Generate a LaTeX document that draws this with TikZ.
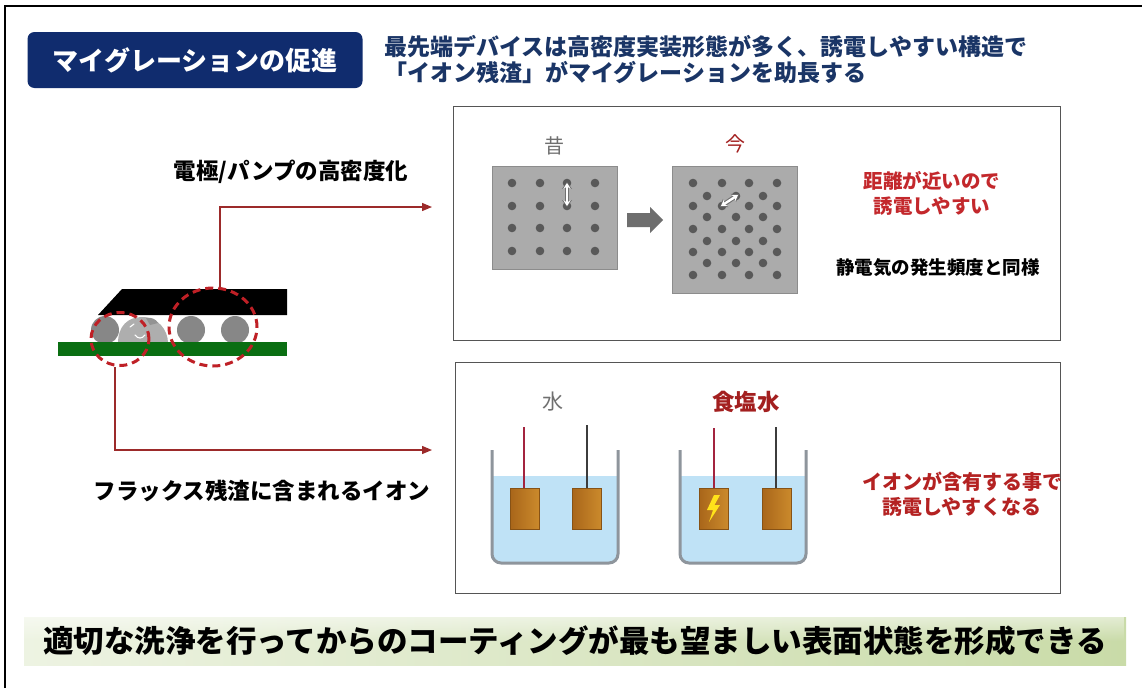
\documentclass[tikz,border=0pt]{standalone}
\usepackage{fontspec}
\setmainfont{Noto Sans CJK JP}
\usetikzlibrary{arrows.meta,shapes.geometric,fadings,calc}

\definecolor{navy}{HTML}{102C6E}
\definecolor{subnavy}{HTML}{1A3566}
\definecolor{redA}{HTML}{C3282C}
\definecolor{redB}{HTML}{B42222}
\definecolor{darkred}{HTML}{A31F1F}
\definecolor{softgray}{HTML}{707070}
\definecolor{boxgray}{HTML}{555555}
\definecolor{sqfill}{HTML}{ABABAB}
\definecolor{sqborder}{HTML}{8C8C8C}
\definecolor{dotc}{HTML}{595959}
\definecolor{arrowgray}{HTML}{6E6E6E}
\definecolor{water}{HTML}{BFE2F6}
\definecolor{wall}{HTML}{8E959C}
\definecolor{copperL}{HTML}{A9661A}
\definecolor{copperR}{HTML}{CB8A2C}
\definecolor{wirered}{HTML}{A3243F}
\definecolor{wiredark}{HTML}{3C3C3C}
\definecolor{pcbgreen}{HTML}{0A6E12}
\definecolor{ballgray}{HTML}{878787}
\definecolor{blobgray}{HTML}{AEAEAE}
\definecolor{dashred}{HTML}{BF2026}
\definecolor{flowred}{HTML}{9C2A2A}
\definecolor{boltyellow}{HTML}{FFE21A}
\definecolor{bandL}{HTML}{EDF3E2}
\definecolor{bandR}{HTML}{C9DBA8}

\newcommand\jsize[2]{\fontsize{#1}{#2}\selectfont}

\begin{document}
\begin{tikzpicture}[x=1pt,y=-1pt,
  panel/.style={draw=boxgray, line width=1pt, inner sep=0pt},
  label/.style={inner sep=0pt, font=\jsize{22.5}{27}\bfseries},
  flow/.style={draw=flowred, line width=1.3pt, -{Triangle[length=10pt,width=8pt]}},
  zone/.style={ellipse, draw=dashred, line width=3pt, dash pattern=on 8pt off 5pt, inner sep=0pt},
  ball/.style={fill=ballgray},
  plate/.style={rectangle, inner sep=0pt, minimum width=125pt, anchor=north west, draw=sqborder, fill=sqfill, line width=1.2pt},
  pad/.style={fill=dotc},
  electrode/.style={rectangle, inner sep=0pt, minimum width=29pt, minimum height=41pt, anchor=north west, left color=copperL, right color=copperR, draw=copperL!80!black, line width=0.4pt},
  beaker/.style={draw=wall, line width=3pt},
  gap/.style={draw=sqborder!80!black, line width=4.6pt, {Stealth[length=7pt,width=10pt]}-{Stealth[length=7pt,width=10pt]}},
  gapin/.style={draw=white, line width=2.4pt, {Stealth[length=5.5pt,width=7pt]}-{Stealth[length=5.5pt,width=7pt]}},
]
\useasboundingbox (0,0) rectangle (1142,688);
\fill[white] (0,0) rectangle (1142,688);

% outer frame (top and left edges)
\draw[black, line width=2pt] (5,688) -- (5,6) -- (1142,6);

% heading
\node[fill=navy, rounded corners=7pt, minimum width=335pt, minimum height=56pt, inner sep=0pt,
      text=white, font=\jsize{26}{30}\bfseries] (title) at (195,60) {マイグレーションの促進};
\node[anchor=west, inner sep=0pt, text=subnavy, font=\jsize{23}{28}\bfseries] (sub1) at (384,47)
  {最先端デバイスは高密度実装形態が多く、誘電しやすい構造で};
\node[anchor=west, inner sep=0pt, text=subnavy, font=\jsize{23}{28}\bfseries] (sub2) at (384,73)
  {「イオン残渣」がマイグレーションを助長する};

% panels
\node[panel, minimum width=607pt, minimum height=234pt] (toppanel) at (756.5,223) {};
\node[panel, minimum width=605pt, minimum height=231pt] (botpanel) at (757.5,477.5) {};

% left labels
\node[label] (lblA) at (291,172) {電極/パンプの高密度化};
\node[label] (lblB) at (262,491) {フラックス残渣に含まれるイオン};

% package cross-section
\fill[black] (98,315) -- (122,289) -- (287,289) -- (287,315) -- cycle;
\fill[ball] (105,330) circle[radius=14];
\fill[ball] (191,330) circle[radius=14];
\fill[ball] (235,330) circle[radius=14];
\fill[blobgray] (118,343) .. controls (118,326) and (128,317) .. (142,317)
  .. controls (158,317) and (168,330) .. (168,343) -- cycle;
\fill[ballgray!90] (146,318) .. controls (151,317) and (156,319) .. (158,323) -- (150,325) -- cycle;
\draw[white, line width=1.1pt, line cap=round] (130,327) -- (134,324);
\draw[white, line width=1.1pt, line cap=round] (135,335) .. controls (138,339) and (142,339) .. (145,335);
\fill[pcbgreen] (58,342) rectangle (287,356);
\node[zone, minimum width=58pt, minimum height=53pt] (zoneL) at (120,339) {};
\node[zone, minimum width=88pt, minimum height=78pt] (zoneR) at (213,327) {};

% connectors
\coordinate (tipA) at (432,207);
\coordinate (tipB) at (432,450);
\draw[flow] ([xshift=7pt]zoneR.north) |- (tipA);
\draw[flow] ([xshift=-5pt]zoneL.south) |- (tipB);

% pitch comparison
\node[text=softgray, font=\jsize{20}{24}] (old) at (554,146) {昔};
\node[text=darkred, font=\jsize{20}{24}] (now) at (735,144) {今};
\node[plate, minimum height=103pt] (plateOld) at (492,166) {};
\node[plate, minimum height=127pt] (plateNew) at (672,166) {};
\foreach \x in {512,540,567,595}
  \foreach \y in {183,206,228,251}
    \fill[pad] (\x,\y) circle[radius=4.3];
\foreach \y in {183,206,229,252,275}
  \foreach \x in {693,722,749,777}
    \fill[pad] (\x,\y) circle[radius=4.3];
\foreach \y in {196,217,241,263}
  \foreach \x in {707,736,763}
    \fill[pad] (\x,\y) circle[radius=4.3];
\draw[gap] (567,182) -- (567,207);
\draw[gapin] (567,183) -- (567,206);
\draw[gap] (720,207) -- (739,194);
\draw[gapin] (721,206) -- (738,195);
% block arrow between the two plates
\fill[arrowgray] (627,213) -- (650,213) -- (650,207) -- (663,220) -- (650,233) -- (650,227) -- (627,227) -- cycle;

\node[text=redA, align=center, font=\jsize{19.5}{25}\bfseries] (close) at (932,193) {距離が近いので\\誘電しやすい};
\node[font=\jsize{18.5}{24}\bfseries] (static) at (938,268) {静電気の発生頻度と同様};

% beakers
\node[text=softgray, font=\jsize{21}{24}] (pure) at (553,402) {水};
\node[text=darkred, font=\jsize{22.5}{26}\bfseries] (salt) at (746,402) {食塩水};

\fill[water] (493,476) [rounded corners=9pt] -- (493,563) -- (618,563) [sharp corners] -- (618,476) -- cycle;
\draw[beaker] (492,450) [rounded corners=9pt] -- (492,563) -- (618,563) [sharp corners] -- (618,450);
\fill[water] (681,476) [rounded corners=9pt] -- (681,563) -- (806,563) [sharp corners] -- (806,476) -- cycle;
\draw[beaker] (680,450) [rounded corners=9pt] -- (680,563) -- (806,563) [sharp corners] -- (806,450);

\node[electrode] (e1) at (510,488) {};
\node[electrode] (e2) at (572,488) {};
\node[electrode] (e3) at (699,488) {};
\node[electrode] (e4) at (762,488) {};
\coordinate (w1) at (524,427);
\coordinate (w2) at (587,425);
\coordinate (w3) at (714,428);
\coordinate (w4) at (776,427);
\draw[wirered, line width=2.2pt] (w1) -- (w1 |- e1.north);
\draw[wiredark, line width=2.2pt] (w2) -- (w2 |- e2.north);
\draw[wirered, line width=2.2pt] (w3) -- (w3 |- e3.north);
\draw[wiredark, line width=2.2pt] (w4) -- (w4 |- e4.north);
\fill[boltyellow] (714,495) -- (707,510) -- (713,510) -- (709,522) -- (720,505) -- (714.5,505) -- (720,495) -- cycle;

\node[text=redB, align=center, font=\jsize{20}{25}\bfseries] (ion) at (962,494) {イオンが含有する事で\\誘電しやすくなる};

% conclusion band
\shade[left color=bandL, right color=bandR] (24,617) rectangle (1126,665);
\fill[white, opacity=0.5, path fading=south] (24,617) rectangle (1126,641);
\node[font=\jsize{30.5}{34}\bfseries] (concl) at (575,641)
  {適切な洗浄を行ってからのコーティングが最も望ましい表面状態を形成できる};
\end{tikzpicture}
\end{document}
